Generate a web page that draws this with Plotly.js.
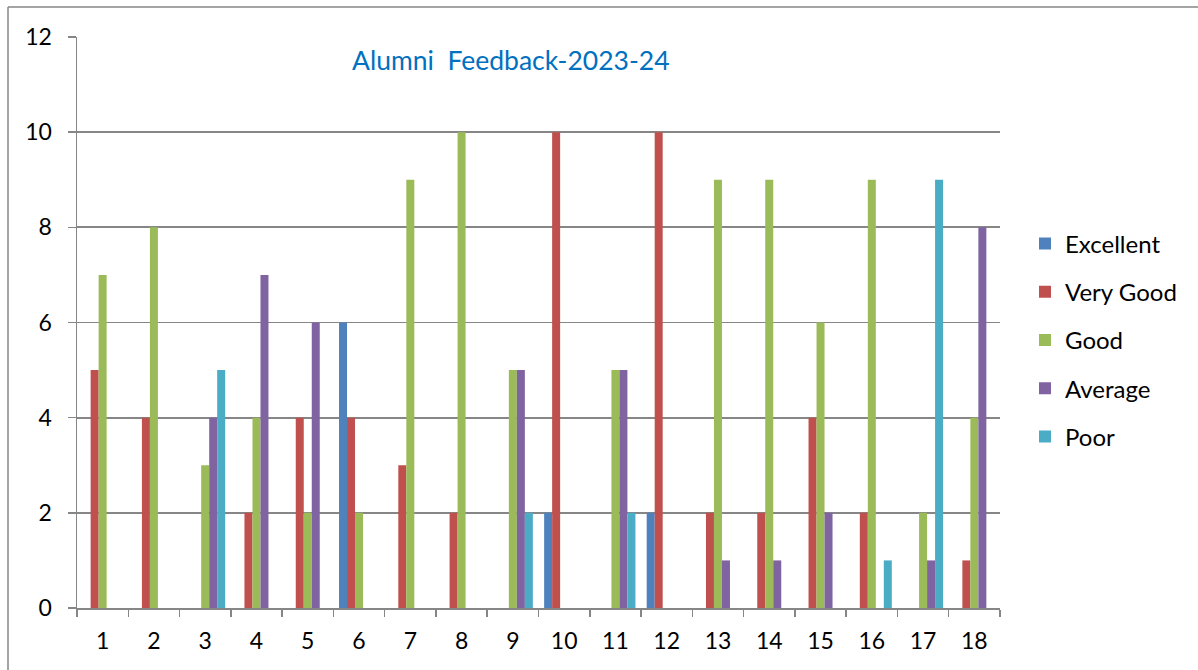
<!DOCTYPE html>
<html>
<head>
<meta charset="utf-8">
<script src="https://cdn.plot.ly/plotly-3.0.1.min.js"></script>
<style>html,body{margin:0;padding:0;background:#fff;}#chart{width:1198px;height:670px;}</style>
</head>
<body>
<div id="chart"></div>
<script>
const categories = ["1","2","3","4","5","6","7","8","9","10","11","12","13","14","15","16","17","18"];
const excellent = [0,0,0,0,0,6,0,0,0,2,0,2,0,0,0,0,0,0];
const veryGood  = [5,4,0,2,4,4,3,2,0,10,0,10,2,2,4,2,0,1];
const good      = [7,8,3,4,2,2,9,10,5,0,5,0,9,9,6,9,2,4];
const average   = [0,0,4,7,6,0,0,0,5,0,5,0,1,1,2,0,1,8];
const poor      = [0,0,5,0,0,0,0,0,2,0,2,0,0,0,0,1,9,0];
const seriesNames = ["Excellent","Very Good","Good","Average","Poor"];
const seriesColors = ["#4F81BD","#C0504D","#9BBB59","#8064A2","#4BACC6"];
const yTicks = [0,2,4,6,8,10,12];
const chartTitle = "Alumni&nbsp;&nbsp;Feedback-2023-24";

const FONT = "Lato, 'Open Sans', sans-serif";
const allSeries = [excellent, veryGood, good, average, poor];
const traces = allSeries.map((vals, i) => ({
  type: "bar",
  name: seriesNames[i],
  x: categories,
  y: vals,
  legendgroup: "g" + i,
  marker: {color: seriesColors[i], line: {width: 0}},
  hoverinfo: "x+y+name"
}));

const L = 77, R = 1000, T = 37, B = 608, W = 1198, H = 670;
const pw = R - L, ph = B - T;
const px = v => (v - L) / pw;
const py = v => (B - v) / ph;

const layout = {
  width: W, height: H,
  margin: {l: L, r: W - R, t: T, b: H - B, pad: 0},
  paper_bgcolor: "#ffffff",
  plot_bgcolor: "#ffffff",
  font: {family: FONT, color: "#000000", size: 20},
  barmode: "group",
  bargap: 0.22,
  bargroupgap: 0,
  showlegend: true,
  legend: {
    x: px(1025), y: py(340), xanchor: "left", yanchor: "middle",
    font: {family: FONT, size: 24, color: "#000000"},
    tracegroupgap: 14,
    bgcolor: "rgba(0,0,0,0)"
  },
  xaxis: {
    type: "category",
    showgrid: false,
    showline: true, linecolor: "#868686", linewidth: 1.5,
    ticks: "outside", ticklen: 7, tickcolor: "#868686", tickwidth: 1.5,
    tickson: "boundaries",
    tickfont: {family: FONT, size: 23, color: "#000000"},
    ticklabelstandoff: 12,
    zeroline: false,
    fixedrange: true
  },
  yaxis: {
    range: [0, 12],
    tickvals: yTicks,
    ticktext: yTicks.map(String),
    showgrid: true, gridcolor: "#868686", gridwidth: 1.8,
    showline: true, linecolor: "#868686", linewidth: 1.5,
    ticks: "outside", ticklen: 8, tickcolor: "#868686", tickwidth: 1.5,
    tickfont: {family: FONT, size: 23, color: "#000000"},
    ticklabelstandoff: 11,
    zeroline: false,
    fixedrange: true
  },
  annotations: [{
    text: chartTitle,
    xref: "paper", yref: "paper",
    x: px(511), y: py(60), xanchor: "center", yanchor: "middle",
    showarrow: false,
    font: {family: FONT, size: 26.5, color: "#0070C0"}
  }],
  shapes: [
    {type: "line", xref: "paper", yref: "paper", x0: px(8), x1: px(8), y0: py(H + 5), y1: py(7), line: {color: "#868686", width: 1.5}},
    {type: "line", xref: "paper", yref: "paper", x0: px(8), x1: px(W + 5), y0: py(7), y1: py(7), line: {color: "#868686", width: 1.5}}
  ]
};

Plotly.newPlot("chart", traces, layout, {displayModeBar: false, staticPlot: true});
</script>
</body>
</html>
